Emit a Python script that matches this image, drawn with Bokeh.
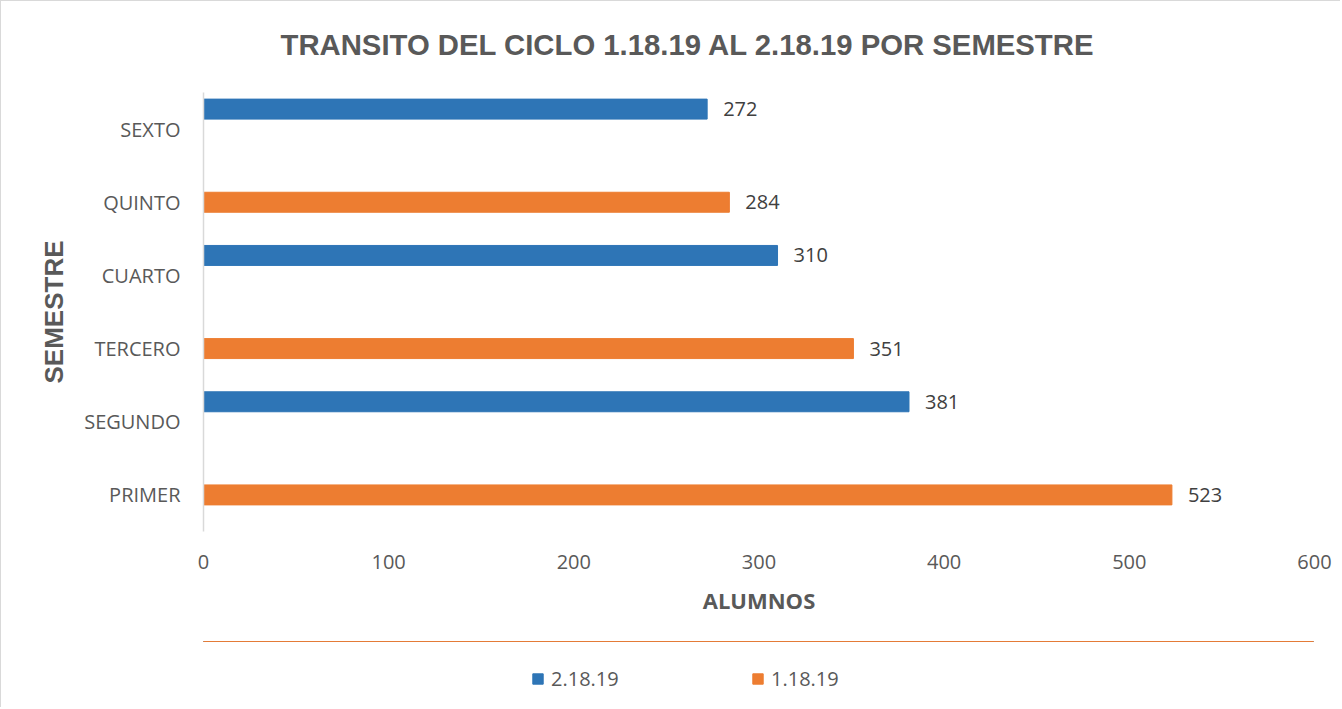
from bokeh.plotting import figure
from bokeh.models import Range1d, FactorRange, Legend, LegendItem, FixedTicker, Label
from bokeh.layouts import column
from bokeh.transform import dodge
from bokeh.core.properties import value
from bokeh.embed import file_html
from bokeh.resources import INLINE

# ---- data ----
title_text = "TRANSITO DEL CICLO 1.18.19 AL 2.18.19 POR SEMESTRE"
categories = ["PRIMER", "SEGUNDO", "TERCERO", "CUARTO", "QUINTO", "SEXTO"]
series_names = ["2.18.19", "1.18.19"]
blue_cats = ["SEGUNDO", "CUARTO", "SEXTO"]
blue_vals = [381, 310, 272]
orange_cats = ["PRIMER", "TERCERO", "QUINTO"]
orange_vals = [523, 351, 284]
x_ticks = [0, 100, 200, 300, 400, 500, 600]

BLUE = "#2E75B6"
ORANGE = "#ED7D31"
GRAY = "#595959"
FONT = "Open Sans"
BORDER = "1px solid #d9d9d9"


def blank_fig(h):
    f = figure(width=1340, height=h, output_backend="svg", toolbar_location=None,
               x_range=Range1d(0, 1), y_range=Range1d(0, 1),
               x_axis_location=None, y_axis_location=None, min_border=0,
               background_fill_color="white", border_fill_color="white")
    f.outline_line_color = None
    f.grid.visible = False
    return f


# ---- title strip ----
head = blank_fig(70)
head.styles = {"border-left": BORDER, "border-top": BORDER}
head.add_layout(Label(x=77, y=27, x_units="screen", y_units="screen", text=title_text,
                      text_align="left", text_baseline="alphabetic",
                      text_font="Liberation Sans", text_font_style="bold",
                      text_font_size="29.3px", text_color=GRAY))

# ---- main chart ----
p = figure(frame_width=1110, frame_height=439, output_backend="svg", toolbar_location=None,
           y_range=FactorRange(factors=categories), x_range=Range1d(0, 600),
           min_border_left=202, min_border_right=28, min_border_top=22, min_border_bottom=110,
           background_fill_color="white", border_fill_color="white")
p.styles = {"border-left": BORDER}
p.outline_line_color = None
p.xgrid.grid_line_color = None
p.ygrid.grid_line_color = None

bh = 0.273
blue_src = dict(y=blue_cats, x=blue_vals, t=[str(v) for v in blue_vals])
orange_src = dict(y=orange_cats, x=orange_vals, t=[str(v) for v in orange_vals])

p.hbar(y=dodge("y", bh, range=p.y_range), right="x", height=bh, left=0,
       color=BLUE, source=blue_src)
p.hbar(y=dodge("y", 0.0, range=p.y_range), right="x", height=bh, left=0,
       color=ORANGE, source=orange_src)

p.text(x="x", y=dodge("y", bh, range=p.y_range), text="t",
       source=blue_src, x_offset=16, text_baseline="middle",
       text_font=value(FONT), text_font_size="20px", text_color="#404040")
p.text(x="x", y=dodge("y", 0.0, range=p.y_range), text="t",
       source=orange_src, x_offset=16, text_baseline="middle",
       text_font=value(FONT), text_font_size="20px", text_color="#404040")

xa = p.xaxis[0]
xa.ticker = FixedTicker(ticks=x_ticks)
xa.axis_line_color = None
xa.major_tick_line_color = None
xa.minor_tick_line_color = None
xa.major_tick_out = 0
xa.major_tick_in = 0
xa.major_label_standoff = 23
xa.major_label_text_font = FONT
xa.major_label_text_font_size = "20px"
xa.major_label_text_color = GRAY
xa.axis_label = "ALUMNOS"
xa.axis_label_text_font = FONT
xa.axis_label_text_font_style = "bold"
xa.axis_label_text_font_size = "22px"
xa.axis_label_text_color = GRAY
xa.axis_label_standoff = 13

ya = p.yaxis[0]
ya.axis_line_color = "#d9d9d9"
ya.axis_line_width = 1.5
ya.major_tick_line_color = None
ya.minor_tick_line_color = None
ya.major_tick_out = 0
ya.major_tick_in = 0
ya.major_label_standoff = 23
ya.major_label_text_font = FONT
ya.major_label_text_font_size = "20px"
ya.major_label_text_color = GRAY
ya.axis_label = "SEMESTRE"
ya.axis_label_text_font = "Liberation Sans"
ya.axis_label_text_font_style = "bold"
ya.axis_label_text_font_size = "26px"
ya.axis_label_text_color = GRAY
ya.axis_label_standoff = 12

# ---- legend strip (proxy bars lie outside this strip's ranges, only their swatches show) ----
leg = blank_fig(66)
leg.styles = {"border-left": BORDER}
lb = leg.hbar(y=blue_vals, right=blue_vals, left=0, height=1, color=BLUE)
lo = leg.hbar(y=orange_vals, right=orange_vals, left=0, height=1, color=ORANGE)
legend = Legend(items=[LegendItem(label=series_names[0], renderers=[lb]),
                       LegendItem(label=series_names[1], renderers=[lo])],
                location=(328, 15), orientation="horizontal",
                glyph_width=13, glyph_height=13, label_standoff=7,
                label_width=80, spacing=120,
                padding=0, margin=0, border_line_color=None, background_fill_alpha=0,
                label_text_font=FONT, label_text_font_size="20px", label_text_color=GRAY)
leg.add_layout(legend, "center")

layout = column(head, p, leg)
open("out.html", "w").write(file_html(layout, INLINE))
